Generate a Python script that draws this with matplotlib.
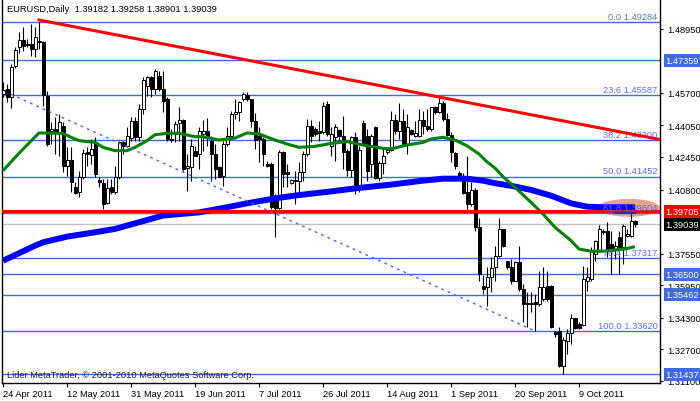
import numpy as np
import matplotlib.pyplot as plt
import matplotlib.transforms as mtransforms
from matplotlib.patches import Ellipse

plt.rcParams['font.family'] = ['Liberation Sans', 'DejaVu Sans']

# barras diarias EURUSD, barra 0 = 24 Apr 2011
opens = [1.4565, 1.4590, 1.4548, 1.4705, 1.4801, 1.4839, 1.4818, 1.4818, 1.4793, 1.4835,
         1.4827, 1.4556, 1.4379, 1.4387, 1.4370, 1.4404, 1.4201, 1.4231, 1.4094, 1.4066,
         1.4142, 1.4269, 1.4257, 1.4319, 1.4128, 1.4113, 1.4010, 1.4091, 1.4066, 1.4142,
         1.4319, 1.4302, 1.4341, 1.4429, 1.4345, 1.4489, 1.4607, 1.4653, 1.4590, 1.4658,
         1.4590, 1.4539, 1.4331, 1.4362, 1.4416, 1.4433, 1.4189, 1.4196, 1.4277, 1.4260,
         1.4362, 1.4375, 1.4328, 1.4260, 1.4196, 1.4150, 1.4311, 1.4353, 1.4463, 1.4472,
         1.4539, 1.4560, 1.4539, 1.4429, 1.4353, 1.4336, 1.4210, 1.4210, 1.4049, 1.3986,
         1.4269, 1.4167, 1.4111, 1.4130, 1.4125, 1.4167, 1.4260, 1.4404, 1.4387, 1.4375,
         1.4370, 1.4514, 1.4302, 1.4348, 1.4382, 1.4353, 1.4273, 1.4179, 1.4345, 1.4091,
         1.4416, 1.4350, 1.4210, 1.4399, 1.4138, 1.4215, 1.4269, 1.4281, 1.4433, 1.4379,
         1.4429, 1.4311, 1.4382, 1.4353, 1.4353, 1.4435, 1.4401, 1.4387, 1.4497, 1.4475,
         1.4517, 1.4438, 1.4358, 1.4264, 1.4162, 1.4142, 1.4066, 1.4007, 1.4078, 1.3888,
         1.3592, 1.3584, 1.3635, 1.3686, 1.3745, 1.3880, 1.3716, 1.3686, 1.3618, 1.3711,
         1.3575, 1.3506, 1.3499, 1.3510, 1.3499, 1.3524, 1.3592, 1.3592, 1.3355, 1.3364,
         1.3187, 1.3313, 1.3350, 1.3428, 1.3398, 1.3394, 1.3618, 1.3626, 1.3753, 1.3770,
         1.3871, 1.3871, 1.3804, 1.3778, 1.3841, 1.3787, 1.3846, 1.3846, 1.39182]
highs = [1.4624, 1.4615, 1.4717, 1.4801, 1.4878, 1.4903, 1.4844, 1.4920, 1.4903, 1.4928,
         1.4832, 1.4581, 1.4421, 1.4446, 1.4463, 1.4421, 1.4294, 1.4294, 1.4116, 1.4176,
         1.4286, 1.4294, 1.4336, 1.4345, 1.4142, 1.4134, 1.4134, 1.4134, 1.4201, 1.4328,
         1.4328, 1.4396, 1.4446, 1.4446, 1.4514, 1.4649, 1.4658, 1.4658, 1.4692, 1.4683,
         1.4683, 1.4548, 1.4387, 1.4429, 1.4497, 1.4438, 1.4260, 1.4336, 1.4302, 1.4396,
         1.4433, 1.4443, 1.4353, 1.4311, 1.4201, 1.4328, 1.4396, 1.4480, 1.4539, 1.4531,
         1.4573, 1.4573, 1.4539, 1.4467, 1.4396, 1.4345, 1.4226, 1.4218, 1.4057, 1.4281,
         1.4277, 1.4210, 1.4134, 1.4176, 1.4218, 1.4277, 1.4438, 1.4433, 1.4396, 1.4429,
         1.4522, 1.4531, 1.4396, 1.4412, 1.4387, 1.4455, 1.4286, 1.4353, 1.4370, 1.4302,
         1.4433, 1.4387, 1.4362, 1.4404, 1.4226, 1.4294, 1.4294, 1.4480, 1.4463, 1.4517,
         1.4489, 1.4463, 1.4387, 1.4429, 1.4489, 1.4480, 1.4489, 1.4500, 1.4504, 1.4544,
         1.4531, 1.4467, 1.4370, 1.4269, 1.4176, 1.4162, 1.4252, 1.4116, 1.4088, 1.3935,
         1.3646, 1.3686, 1.3737, 1.3795, 1.3935, 1.3880, 1.3719, 1.3728, 1.3719, 1.3795,
         1.3601, 1.3558, 1.3558, 1.3550, 1.3669, 1.3686, 1.3669, 1.3597, 1.3364, 1.3381,
         1.3330, 1.3372, 1.3448, 1.3428, 1.3406, 1.3694, 1.3686, 1.3787, 1.3824, 1.3900,
         1.3880, 1.3913, 1.3871, 1.3821, 1.3871, 1.3905, 1.3880, 1.3960, 1.39258]
lows = [1.4548, 1.4522, 1.4492, 1.4699, 1.4771, 1.4784, 1.4801, 1.4759, 1.4751, 1.4793,
        1.4506, 1.4302, 1.4311, 1.4260, 1.4252, 1.4167, 1.4150, 1.4066, 1.4057, 1.4040,
        1.4134, 1.4201, 1.4210, 1.4142, 1.4091, 1.3981, 1.4007, 1.4057, 1.4057, 1.4134,
        1.4260, 1.4294, 1.4328, 1.4328, 1.4328, 1.4463, 1.4556, 1.4548, 1.4565, 1.4581,
        1.4472, 1.4328, 1.4319, 1.4319, 1.4328, 1.4176, 1.4074, 1.4125, 1.4252, 1.4184,
        1.4277, 1.4302, 1.4125, 1.4134, 1.4142, 1.4100, 1.4302, 1.4345, 1.4438, 1.4429,
        1.4531, 1.4531, 1.4396, 1.4286, 1.4218, 1.4201, 1.4193, 1.3981, 1.3837, 1.3981,
        1.4091, 1.4091, 1.4108, 1.4007, 1.4066, 1.4125, 1.4252, 1.4319, 1.4353, 1.4328,
        1.4362, 1.4353, 1.4252, 1.4226, 1.4319, 1.4184, 1.4150, 1.4142, 1.4057, 1.4066,
        1.4302, 1.4125, 1.4142, 1.4134, 1.4125, 1.4159, 1.4260, 1.4277, 1.4362, 1.4336,
        1.4302, 1.4260, 1.4358, 1.4345, 1.4345, 1.4362, 1.4379, 1.4379, 1.4463, 1.4467,
        1.4429, 1.4353, 1.4218, 1.4184, 1.4142, 1.4057, 1.3973, 1.3998, 1.3871, 1.3618,
        1.3548, 1.3491, 1.3558, 1.3618, 1.3737, 1.3787, 1.3677, 1.3601, 1.3618, 1.3567,
        1.3406, 1.3381, 1.3457, 1.3362, 1.3491, 1.3516, 1.3516, 1.3378, 1.3330, 1.3178,
        1.3144, 1.3246, 1.3296, 1.3372, 1.3372, 1.3389, 1.3567, 1.3618, 1.3719, 1.3770,
        1.3854, 1.3737, 1.3652, 1.3728, 1.3652, 1.3702, 1.3837, 1.3841, 1.38901]
closes = [1.4585, 1.4548, 1.4703, 1.4788, 1.4839, 1.4810, 1.4813, 1.4793, 1.4856, 1.4830,
          1.4560, 1.4311, 1.4387, 1.4370, 1.4421, 1.4201, 1.4230, 1.4116, 1.4062, 1.4142,
          1.4264, 1.4260, 1.4286, 1.4159, 1.4116, 1.4007, 1.4088, 1.4066, 1.4142, 1.4319,
          1.4302, 1.4353, 1.4429, 1.4345, 1.4489, 1.4637, 1.4649, 1.4590, 1.4680, 1.4590,
          1.4531, 1.4336, 1.4336, 1.4412, 1.4433, 1.4184, 1.4201, 1.4302, 1.4252, 1.4379,
          1.4379, 1.4353, 1.4260, 1.4184, 1.4145, 1.4311, 1.4353, 1.4463, 1.4472, 1.4522,
          1.4565, 1.4539, 1.4429, 1.4331, 1.4336, 1.4260, 1.4201, 1.3990, 1.3986, 1.4269,
          1.4159, 1.4159, 1.4130, 1.4125, 1.4167, 1.4260, 1.4404, 1.4353, 1.4362, 1.4365,
          1.4506, 1.4362, 1.4362, 1.4396, 1.4353, 1.4269, 1.4181, 1.4348, 1.4091, 1.4281,
          1.4311, 1.4172, 1.4350, 1.4138, 1.4215, 1.4248, 1.4281, 1.4433, 1.4375, 1.4426,
          1.4311, 1.4396, 1.4362, 1.4365, 1.4433, 1.4404, 1.4387, 1.4497, 1.4475, 1.4517,
          1.4438, 1.4358, 1.4269, 1.4201, 1.4150, 1.4061, 1.4007, 1.4078, 1.3888, 1.3649,
          1.3575, 1.3635, 1.3682, 1.3745, 1.3880, 1.3795, 1.3686, 1.3618, 1.3711, 1.3575,
          1.3499, 1.3499, 1.3506, 1.3499, 1.3584, 1.3584, 1.3524, 1.3384, 1.3347, 1.3187,
          1.3317, 1.3350, 1.3428, 1.3377, 1.3377, 1.3626, 1.3635, 1.3770, 1.3821, 1.3880,
          1.3863, 1.3778, 1.3767, 1.3795, 1.3787, 1.3897, 1.3854, 1.3919, 1.39039]

date_ticks = [0, 16, 32, 48, 64, 80, 96, 112, 128, 144]
date_labels = ['24 Apr 2011', '12 May 2011', '31 May 2011', '19 Jun 2011', '7 Jul 2011',
               '26 Jul 2011', '14 Aug 2011', '1 Sep 2011', '20 Sep 2011', '9 Oct 2011']

# medias moveis
ma_green_idx = [0, 4, 9, 15, 17, 19, 23, 25, 28, 31, 33, 36, 38, 41, 44, 48, 50, 54, 58, 61,
                64, 68, 71, 74, 78, 82, 86, 91, 95, 97, 101, 105, 107, 110, 113, 116, 119,
                121, 123, 125, 128, 132, 135, 138, 142, 144, 147, 150, 153, 156, 158]
ma_green = [1.4176, 1.4264, 1.4367, 1.4365, 1.4345, 1.4328, 1.4319, 1.4294, 1.4277, 1.4277,
            1.4294, 1.4328, 1.4358, 1.4365, 1.4365, 1.4348, 1.4348, 1.4331, 1.4341, 1.4367,
            1.4362, 1.4331, 1.4311, 1.4294, 1.4299, 1.4314, 1.4323, 1.4302, 1.4289, 1.4286,
            1.4306, 1.4319, 1.4336, 1.4345, 1.4331, 1.4302, 1.4260, 1.4220, 1.4189, 1.4145,
            1.4091, 1.4015, 1.3956, 1.3888, 1.3821, 1.3778, 1.3767, 1.3767, 1.3773, 1.3781,
            1.3790]
ma_blue_idx = [0, 8, 10, 16, 23, 28, 34, 40, 49, 56, 61, 68, 74, 81, 89, 97, 105, 110, 116,
               120, 123, 127, 132, 137, 142, 146, 150, 158]
ma_blue = [1.3719, 1.3795, 1.3812, 1.3841, 1.3863, 1.3880, 1.3914, 1.3948, 1.3964, 1.3990,
           1.4010, 1.4035, 1.4052, 1.4068, 1.4088, 1.4105, 1.4125, 1.4135, 1.4135, 1.4125,
           1.4112, 1.4099, 1.4078, 1.4049, 1.4010, 1.3993, 1.3990, 1.3990]

fib_pct = ['0.0', '23.6', '38.2', '50.0', '61.8', '76.4', '100.0']
fib_price = [1.49284, 1.45587, 1.43300, 1.41452, 1.39604, 1.37317, 1.33620]

extra_levels = [1.47359, 1.36500, 1.35462, 1.31437]
resist_level = 1.39705
bid_level = 1.39039

y_ticks = [1.48950, 1.45700, 1.44050, 1.42450, 1.40800, 1.37550, 1.35950, 1.34300,
           1.32700, 1.31100]

trend_red = [(9, 1.4940), (158, 1.4358)]
trend_dots = [(2, 1.4563), (133, 1.3362)]
zone = (156.5, 1.3987, 15.5, 0.0091)   # centro x, centro y, largura, altura
mark_seg = (153, 158, 1.3960)

blue = '#4169E1'
fib_col = '#5b6ee0'
fs = 6.7

fig = plt.figure(figsize=(7, 4.02), dpi=100)
ax = fig.add_axes([2/700, 18/402, 658/700, 384/402])
x_max = 164.25
ax.set_xlim(-0.25, x_max)
ax.set_ylim(1.30984, 1.50466)

o = np.array(opens); h = np.array(highs); l = np.array(lows); c = np.array(closes)
idx = np.arange(len(o))

# zona destacada
ax.add_patch(Ellipse((zone[0], zone[1]), zone[2], zone[3], color='#E9A38C', lw=0, zorder=1))

# niveis horizontais
for p in fib_price + extra_levels:
    ax.axhline(p, color=blue, lw=1, zorder=2)
ax.axhline(bid_level, color='#C0C0C0', lw=1, zorder=2)
ax.axhline(resist_level, color='red', lw=2.2, zorder=4.3)
ax.plot([mark_seg[0], mark_seg[1]], [mark_seg[2], mark_seg[2]], color='#1030b0', lw=1.3, zorder=4.4)

# velas
ax.vlines(idx, l, h, color='black', lw=0.8, zorder=3)
up = c >= o
bot = np.minimum(o, c)
hgt = np.maximum(np.abs(c - o), 0.00005)
ax.bar(idx[up], hgt[up], bottom=bot[up], width=0.75, facecolor='white', edgecolor='black',
       lw=0.7, zorder=3.2)
ax.bar(idx[~up], hgt[~up], bottom=bot[~up], width=0.75, facecolor='black', edgecolor='black',
       lw=0.7, zorder=3.2)

# medias
ax.plot(ma_blue_idx, ma_blue, color='#0000FF', lw=4.3, zorder=4, solid_capstyle='butt')
ax.plot(ma_green_idx, ma_green, color='#008000', lw=2.2, zorder=4.1, solid_capstyle='butt')

# linhas de tendencia
(x0, y0), (x1, y1) = trend_red
slope = (y1 - y0) / (x1 - x0)
ax.plot([x0, x_max], [y0, y0 + slope * (x_max - x0)], color='red', lw=2.2, zorder=5)
ax.plot([p[0] for p in trend_dots], [p[1] for p in trend_dots], color=blue, lw=1,
        linestyle=(0, (2, 3)), zorder=5)

# rotulos fibo
lab_tr = mtransforms.offset_copy(ax.transData, fig=fig, y=1.5, units='dots')
for pct, p in zip(fib_pct, fib_price):
    ax.text(163.6, p, f'{pct} {p:.5f}', ha='right', va='bottom', color=fib_col,
            fontsize=fs, transform=lab_tr, zorder=4.5)

# eixo y a direita
ax.yaxis.tick_right()
ax.set_yticks(y_ticks, [f'{t:.5f}' for t in y_ticks])
ax.tick_params(axis='y', length=2, width=0.8, pad=3, labelsize=fs, direction='out')

blend = mtransforms.blended_transform_factory(ax.transAxes, ax.transData)
boxes = [(p, blue) for p in extra_levels] + [(resist_level, '#FF0000'), (bid_level, 'black')]
for p, col in boxes:
    ax.text(1.0085, p, f'{p:.5f}', transform=blend, ha='left', va='center', color='white',
            fontsize=fs, zorder=10, clip_on=False,
            bbox=dict(boxstyle='square,pad=0.22', fc=col, ec='none'))

ax.set_xticks(date_ticks, date_labels)
for t in ax.get_xticklabels():
    t.set_ha('left')
ax.tick_params(axis='x', length=3, width=0.8, pad=1.5, labelsize=fs, direction='out')

for s in ['left', 'right', 'bottom']:
    ax.spines[s].set_color('black')
    ax.spines[s].set_linewidth(1)
ax.spines['top'].set_visible(False)

fig.text(7/700, 1 - 10/402, 'EURUSD,Daily  1.39182 1.39258 1.38901 1.39039', fontsize=fs,
         va='center', ha='left')
ax.text(0.008, 1.31437, 'Lider MetaTrader, © 2001-2010 MetaQuotes Software Corp.',
        transform=blend, fontsize=fs, va='center', ha='left', color='#202020', zorder=6)

fig.savefig('out.png', dpi=100)
